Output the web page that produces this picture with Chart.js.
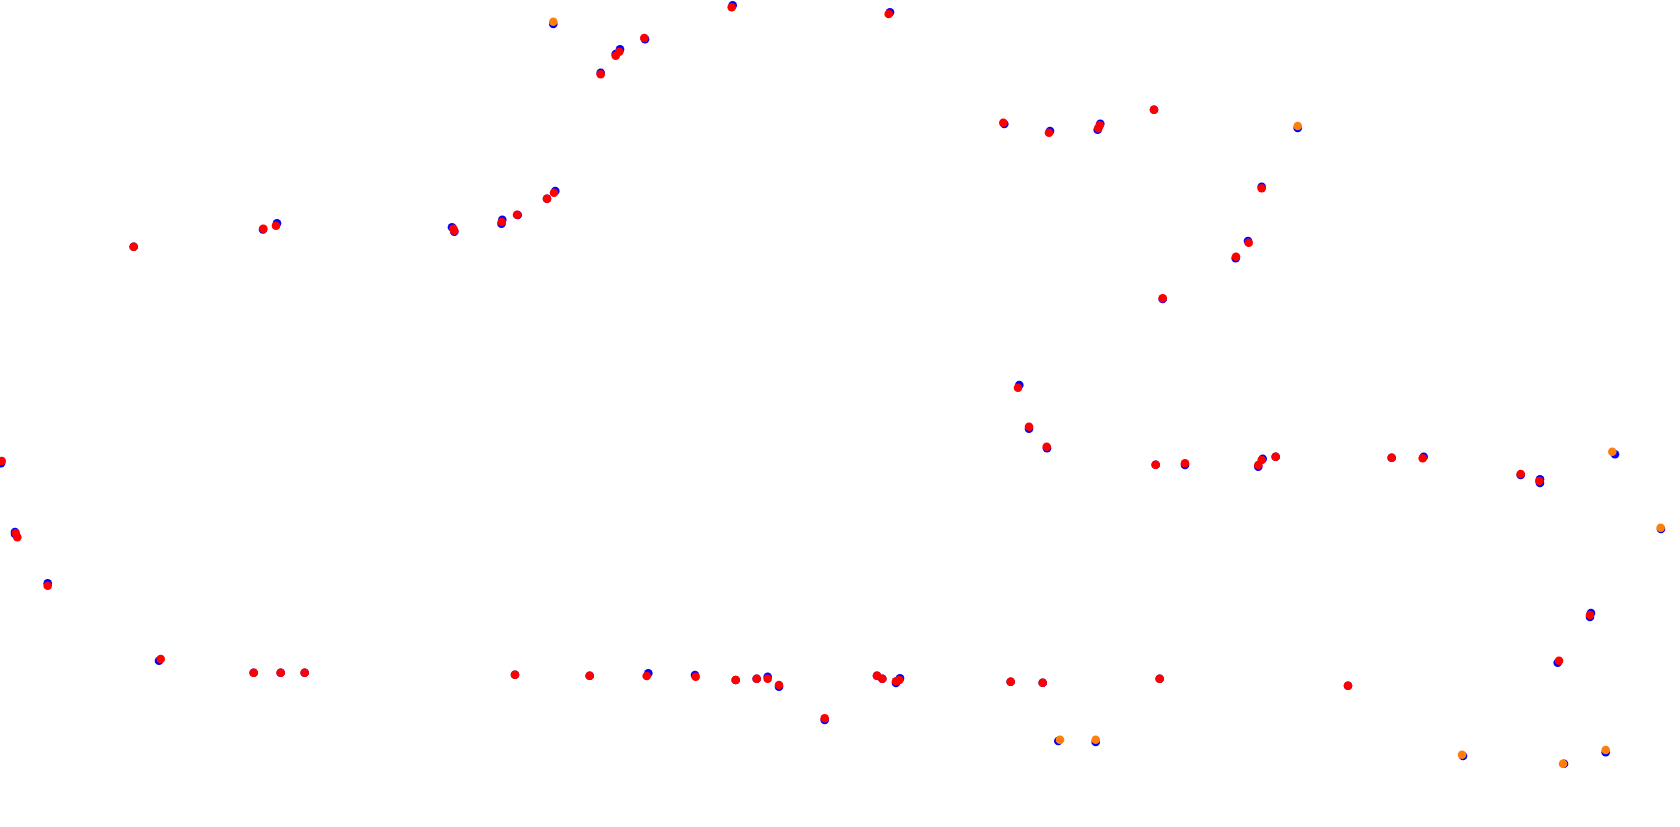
<!DOCTYPE html>
<html lang="en">
<head>
  <meta charset="UTF-8">
  <title>Track points</title>
  <script src="https://cdn.jsdelivr.net/npm/chart.js"></script>
  <style>
    html, body {
      margin: 0;
      padding: 0;
      background: #ffffff;
      overflow: hidden;
    }
    .wrap {
      width: 1680px;
      height: 827px;
    }
  </style>
</head>
<body>
  <div class="wrap"><canvas id="chart"></canvas></div>

  <script>
    // values (x to the right, y downwards)
    const redX = [1.7, 15.7, 17.3, 47.7, 133.7, 160.7, 253.7, 280.7, 304.7, 263.3, 276, 453.3, 454.3, 501.7,
      517, 547, 554, 515, 589.7, 600.7, 615.7, 619.3, 644.3, 646.7, 695.7, 731.7, 735.7, 756.7, 767.7, 779,
      824.7, 877, 882.3, 896, 899.3, 888.7, 1003.3, 1010.7, 1018, 1029, 1042.7, 1046.7, 1049, 1098.3, 1099.7,
      1154, 1155.7, 1159.7, 1162.7, 1185, 1236, 1248.7, 1258.3, 1261.7, 1261.7, 1275.7, 1348, 1391.7, 1422.7,
      1520.7, 1539.3, 1559, 1590];
    const redY = [461, 533.3, 537.3, 585.7, 246.7, 659, 672.7, 672.7, 672.7, 228.7, 225.7, 228.7, 230.7, 222,
      214.7, 198.7, 192.7, 674.7, 675.7, 74.3, 55.7, 51.7, 38, 676, 676.7, 7.3, 680, 678.7, 678.7, 685,
      718.3, 675.7, 678.7, 681.3, 680, 14, 122.7, 681.7, 387.7, 426.7, 682.7, 446.7, 132.7, 128.3, 125.3,
      109.7, 464.7, 678.7, 298.3, 463.3, 256.7, 242.7, 465, 460, 188.3, 456.7, 685.7, 457.7, 458.3,
      474, 481, 660.7, 615];

    const orangeX = [553.3, 1297.7, 1612.3, 1660.7, 1060, 1095.7, 1462, 1563, 1605.7];
    const orangeY = [21.7, 126, 451.7, 527.7, 739.7, 739.7, 754.7, 763.7, 750];

    const blueX = [1, 15, 15, 47.7, 133.7, 159, 253.7, 280.7, 304.7, 263, 277, 452, 454.3, 502.3, 501.5,
      517.7, 547, 555.3, 515, 589.7, 600.7, 615.7, 620, 645, 648.3, 695, 732.7, 735.7, 756.7, 767.7, 779,
      824.7, 877, 882.3, 896, 900, 890, 1004.3, 1010.7, 1019.3, 1029, 1042.7, 1047, 1050, 1097.7, 1100.3,
      1154, 1155.7, 1159.7, 1162.7, 1185, 1235.7, 1248, 1258.3, 1262.7, 1261.7, 1275.7, 1348, 1391.7, 1423.7,
      1520.7, 1540, 1540, 1557.7, 1590, 1591,
      553.3, 1297.7, 1615, 1661, 1058.3, 1095.7, 1463, 1564, 1605.7];
    const blueY = [463.3, 532, 534, 583.3, 246.7, 660.7, 672.7, 672.7, 672.7, 229.5, 223.3, 227.3, 231.7, 219.7, 223.7,
      215, 198.7, 191, 674.7, 675.7, 72.7, 54, 49.3, 39.3, 673.3, 675, 5.3, 680, 678.7, 676.7, 686.7,
      720, 675.7, 678.7, 683, 678.3, 12.3, 124, 681.7, 385, 428.7, 682.7, 448.3, 131, 129.7, 123.7,
      109.7, 464.7, 678.7, 299, 465, 258.3, 241, 466.7, 458.7, 186.7, 456.7, 685.7, 457.7, 456.7,
      475, 479.3, 483, 662.7, 617, 613,
      24, 128, 454.3, 529, 741, 742, 756, 763.7, 752.3];

    const toPoints = (xs, ys) => xs.map((x, i) => ({ x: x, y: ys[i] }));

    new Chart(document.getElementById('chart'), {
      type: 'scatter',
      data: {
        datasets: [
          { label: 'red', data: toPoints(redX, redY), backgroundColor: '#ff0000' },
          { label: 'orange', data: toPoints(orangeX, orangeY), backgroundColor: '#ff7f0e' },
          { label: 'blue', data: toPoints(blueX, blueY), backgroundColor: '#0000ff' }
        ]
      },
      options: {
        responsive: true,
        maintainAspectRatio: false,
        animation: false,
        layout: { padding: 0, autoPadding: false },
        elements: {
          point: { radius: 4.3, borderWidth: 0, hoverRadius: 4.3 }
        },
        datasets: { scatter: { clip: false } },
        plugins: {
          legend: { display: false },
          tooltip: { enabled: false }
        },
        scales: {
          x: { type: 'linear', min: 0, max: 1680, display: false },
          y: { type: 'linear', min: 0, max: 827, reverse: true, display: false }
        }
      }
    });
  </script>
</body>
</html>
